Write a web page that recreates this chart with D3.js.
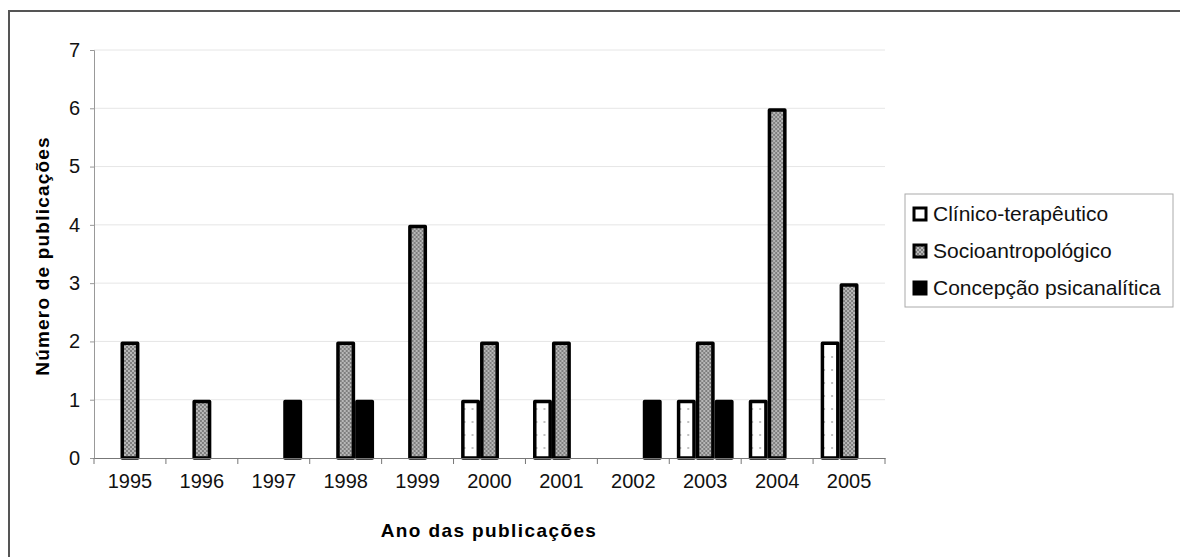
<html>
<head>
<script src="https://d3js.org/d3.v7.min.js"></script>
<style>
  body { margin: 0; background: #fff; }
  text { font-family: Arial, "Liberation Sans", sans-serif; }
</style>
</head>
<body>
<svg></svg>
<script>
  // data
  const years = ["1995","1996","1997","1998","1999","2000","2001","2002","2003","2004","2005"];
  const seriesNames = ["Clínico-terapêutico", "Socioantropológico", "Concepção psicanalítica"];
  const clinico = [0, 0, 0, 0, 0, 1, 1, 0, 1, 1, 2];
  const socio = [2, 1, 0, 2, 4, 2, 2, 0, 2, 6, 3];
  const psican = [0, 0, 1, 1, 0, 0, 0, 1, 1, 0, 0];
  const yTicks = [0, 1, 2, 3, 4, 5, 6, 7];

  const W = 1180, H = 557;
  const plotL = 94, plotR = 885, plotT = 50, plotB = 458;

  const svg = d3.select("svg").attr("width", W).attr("height", H);

  // fills for the three series
  const defs = svg.append("defs");
  const pSocio = defs.append("pattern").attr("id", "socio")
    .attr("width", 4).attr("height", 4).attr("patternUnits", "userSpaceOnUse");
  pSocio.append("rect").attr("width", 4).attr("height", 4).attr("fill", "#7e7e7e");
  pSocio.append("circle").attr("cx", 1).attr("cy", 1).attr("r", 0.9).attr("fill", "#d4d4d4");
  pSocio.append("circle").attr("cx", 3).attr("cy", 3).attr("r", 0.9).attr("fill", "#d4d4d4");
  const pClin = defs.append("pattern").attr("id", "clin")
    .attr("width", 8).attr("height", 13).attr("patternUnits", "userSpaceOnUse");
  pClin.append("rect").attr("width", 8).attr("height", 13).attr("fill", "#fff");
  pClin.append("circle").attr("cx", 3).attr("cy", 6).attr("r", 0.7).attr("fill", "#555");
  const fills = ["url(#clin)", "url(#socio)", "#000"];

  // outer frame
  svg.append("rect").attr("x", 9).attr("y", 11).attr("width", W + 20).attr("height", H + 20)
    .attr("fill", "none").attr("stroke", "#555").attr("stroke-width", 2);

  const x = d3.scaleBand().domain(years).range([plotL, plotR]);
  const xs = d3.scaleBand().domain(d3.range(3)).range([0, x.bandwidth()]).paddingInner(0).paddingOuter(0.4);
  const y = d3.scaleLinear().domain([0, 7]).range([plotB, plotT]);

  // grid lines
  svg.append("g").selectAll("line").data(yTicks.slice(1)).join("line")
    .attr("x1", plotL).attr("x2", plotR)
    .attr("y1", d => y(d)).attr("y2", d => y(d))
    .attr("stroke", "#e6e6e6").attr("stroke-width", 1);

  // bars
  const rows = years.map((yr, i) => ({ yr, vals: [clinico[i], socio[i], psican[i]] }));
  const g = svg.append("g").selectAll("g").data(rows).join("g")
    .attr("transform", d => "translate(" + x(d.yr) + ",0)");
  g.selectAll("rect").data(d => d.vals.map((v, k) => ({ v, k })).filter(e => e.v > 0)).join("rect")
    .attr("x", e => xs(e.k) + 1.75)
    .attr("width", xs.bandwidth() - 3.5)
    .attr("y", e => y(e.v) + 1.75)
    .attr("height", e => y(0) - y(e.v) - 1.75)
    .attr("fill", e => fills[e.k])
    .attr("stroke", "#000").attr("stroke-width", 3.5).attr("stroke-linejoin", "round");

  // axes
  const yAxis = svg.append("g").attr("transform", "translate(" + plotL + ",0)")
    .call(d3.axisLeft(y).tickValues(yTicks).tickFormat(d3.format("d")).tickSize(4).tickPadding(10));
  const xAxis = svg.append("g").attr("transform", "translate(0," + plotB + ")")
    .call(d3.axisBottom(x).tickSize(0).tickPadding(16));
  xAxis.selectAll(".tick text").attr("font-size", 20).attr("fill", "#111");
  yAxis.selectAll(".tick text").attr("font-size", 20).attr("fill", "#111");
  yAxis.select(".domain").attr("stroke", "#999");
  yAxis.selectAll(".tick line").attr("stroke", "#999");
  xAxis.select(".domain").attr("stroke", "#777");
  xAxis.selectAll(".tick line").remove();
  // category separator ticks
  svg.append("g").selectAll("line").data(years.concat(["end"])).join("line")
    .attr("x1", (d, i) => i < years.length ? x(d) : plotR)
    .attr("x2", (d, i) => i < years.length ? x(d) : plotR)
    .attr("y1", plotB).attr("y2", plotB + 6)
    .attr("stroke", "#777");

  // axis titles
  svg.append("text").attr("x", 489).attr("y", 537).attr("text-anchor", "middle")
    .attr("font-size", 19).attr("font-weight", "bold").attr("letter-spacing", 1.4).text("Ano das publicações");
  svg.append("text").attr("transform", "translate(49,256) rotate(-90)").attr("text-anchor", "middle")
    .attr("font-size", 19).attr("font-weight", "bold").attr("letter-spacing", 1.2).text("Número de publicações");

  // legend
  const lg = svg.append("g").attr("transform", "translate(905,194)");
  lg.append("rect").attr("width", 268).attr("height", 113)
    .attr("fill", "#fff").attr("stroke", "#aaa").attr("stroke-width", 1);
  const item = lg.selectAll("g").data(seriesNames).join("g")
    .attr("transform", (d, i) => "translate(0," + (20 + i * 37) + ")");
  item.append("rect").attr("x", 9).attr("y", -6).attr("width", 12).attr("height", 12)
    .attr("fill", (d, i) => i === 0 ? "#fff" : fills[i])
    .attr("stroke", "#000").attr("stroke-width", 3);
  item.append("text").attr("x", 28).attr("y", 7).attr("font-size", 21).attr("fill", "#111").text(d => d);
</script>
</body>
</html>
